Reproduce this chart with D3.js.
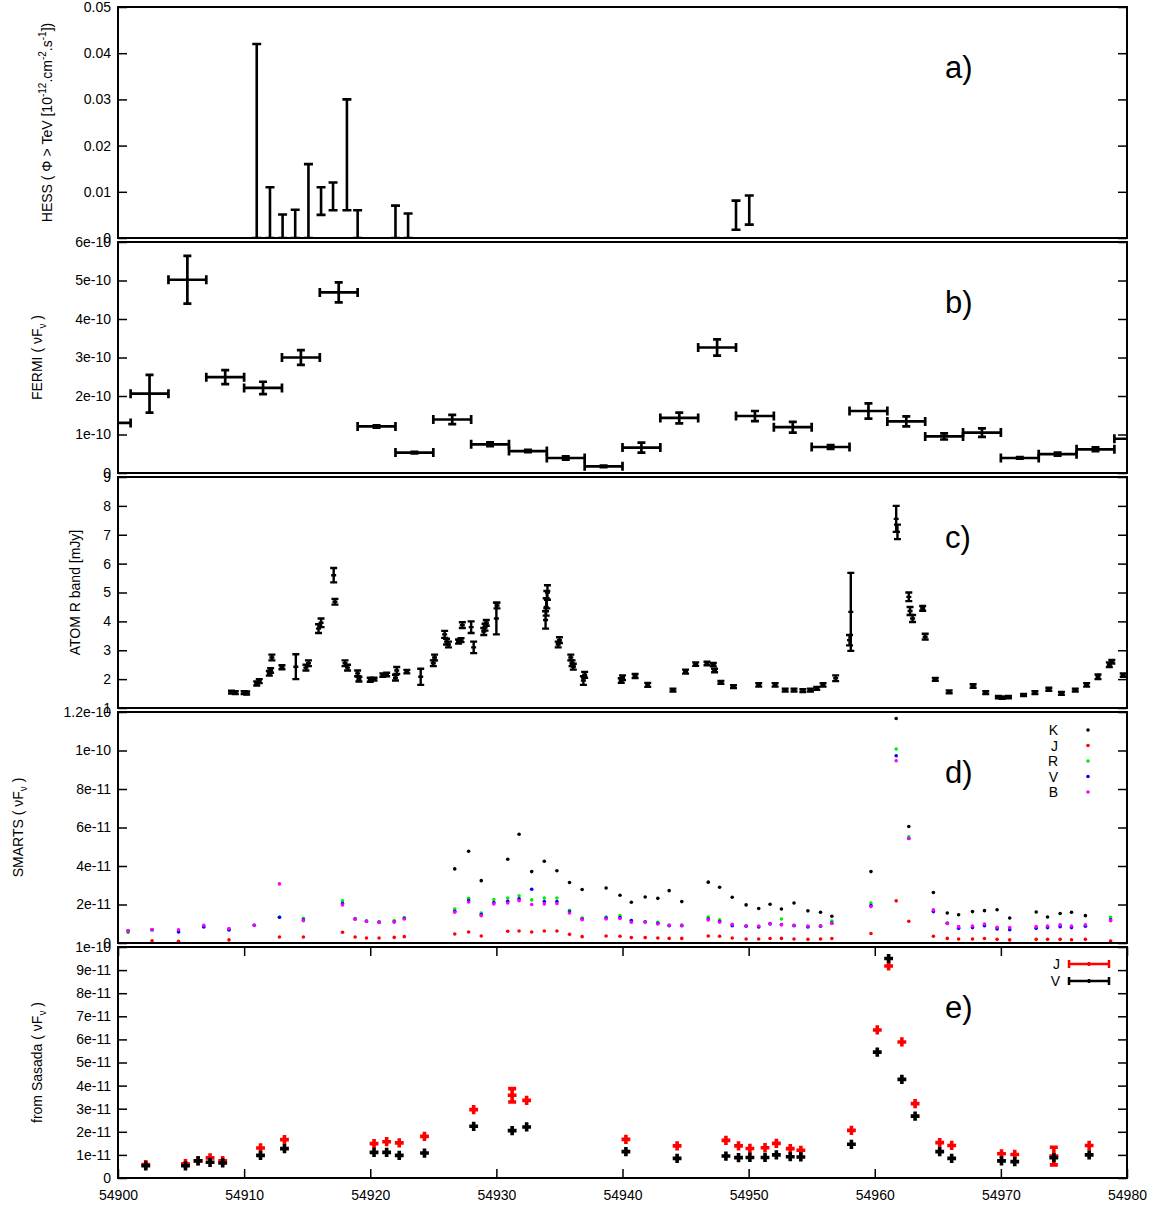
<!DOCTYPE html>
<html>
<head>
<meta charset="utf-8">
<title>Multi-wavelength light curves</title>
<style>
  body { margin: 0; background: #fff; }
  svg text { font-family: "Liberation Sans", Arial, sans-serif; }
</style>
</head>
<body>
<svg width="1170" height="1207"></svg>
<script src="https://d3js.org/d3.v7.min.js"></script>
<script>

// ---------- data (x = MJD) ----------

// HESS: [mjd, low, high]
var hess = [
  [54911.0, 0, 0.042], [54912.05, 0, 0.011], [54913.05, 0, 0.0051],
  [54914.05, 0, 0.0061], [54915.1, 0, 0.016], [54916.1, 0.005, 0.011],
  [54917.05, 0.006, 0.012], [54918.15, 0.006, 0.030], [54919.0, 0, 0.006],
  [54922.0, 0, 0.007], [54923.0, 0, 0.0053],
  [54949.0, 0.0018, 0.0081], [54950.05, 0.0029, 0.0092]
];
var hessTicks = [0, 0.01, 0.02, 0.03, 0.04, 0.05];

// FERMI: 3-day bins, [centre mjd, flux (1e-10), error (1e-10)]
var fermiHalfBin = 1.5;
var fermi = [
  [54899.5, 1.30, 0.03], [54902.5, 2.06, 0.49], [54905.5, 5.02, 0.62],
  [54908.5, 2.49, 0.18], [54911.5, 2.21, 0.16], [54914.5, 3.00, 0.19],
  [54917.5, 4.69, 0.26], [54920.5, 1.21, 0.03], [54923.5, 0.53, 0.02],
  [54926.5, 1.39, 0.12], [54929.5, 0.745, 0.05], [54932.5, 0.57, 0.03],
  [54935.5, 0.39, 0.04], [54938.5, 0.174, 0.02], [54941.5, 0.66, 0.13],
  [54944.5, 1.43, 0.14], [54947.5, 3.26, 0.21], [54950.5, 1.48, 0.13],
  [54953.5, 1.19, 0.14], [54956.5, 0.675, 0.05], [54959.5, 1.61, 0.2],
  [54962.5, 1.34, 0.13], [54965.5, 0.95, 0.08], [54968.5, 1.05, 0.11],
  [54971.5, 0.39, 0.02], [54974.5, 0.49, 0.04], [54977.5, 0.615, 0.05],
  [54980.5, 0.89, 0.05]
];
var fermiTicks = [0, 1, 2, 3, 4, 5, 6];

// ATOM R band: [mjd, mJy, error]
var atom = [
  [54909.0, 1.55, 0.05], [54909.3, 1.53, 0.05], [54910.0, 1.53, 0.05], [54910.2, 1.52, 0.05],
  [54911.0, 1.85, 0.07], [54911.2, 1.93, 0.07], [54912.0, 2.2, 0.08], [54912.1, 2.3, 0.08],
  [54912.2, 2.75, 0.1], [54913.0, 2.41, 0.07], [54914.1, 2.43, 0.43], [54914.9, 2.4, 0.1],
  [54915.1, 2.55, 0.1], [54915.9, 3.75, 0.15], [54916.1, 3.95, 0.15], [54917.1, 5.6, 0.25],
  [54917.2, 4.68, 0.1], [54918.0, 2.55, 0.1], [54918.2, 2.4, 0.1], [54919.0, 2.2, 0.1],
  [54919.1, 2.0, 0.08], [54920.0, 1.98, 0.07], [54920.3, 2.0, 0.05], [54921.0, 2.14, 0.06],
  [54921.3, 2.16, 0.06], [54922.0, 2.05, 0.1], [54922.1, 2.3, 0.12], [54922.9, 2.26, 0.06],
  [54924.0, 2.08, 0.28], [54925.0, 2.55, 0.1], [54925.1, 2.75, 0.1], [54925.9, 3.55, 0.12],
  [54926.05, 3.3, 0.1], [54926.2, 3.2, 0.1], [54927.0, 3.3, 0.07], [54927.2, 3.35, 0.07],
  [54927.3, 3.87, 0.1], [54928.0, 3.8, 0.2], [54928.2, 3.1, 0.2], [54929.0, 3.65, 0.12],
  [54929.1, 3.8, 0.12], [54929.2, 3.95, 0.1], [54930.0, 4.1, 0.55], [54930.05, 4.55, 0.1],
  [54933.9, 4.05, 0.3], [54933.95, 4.5, 0.3], [54934.0, 4.75, 0.3], [54934.05, 5.0, 0.25],
  [54934.9, 3.2, 0.1], [54935.0, 3.35, 0.1], [54935.9, 2.75, 0.1], [54936.0, 2.55, 0.1],
  [54936.1, 2.43, 0.1], [54936.9, 1.95, 0.15], [54937.0, 2.15, 0.1], [54939.9, 1.95, 0.08],
  [54940.0, 2.05, 0.08], [54941.0, 2.11, 0.07], [54942.0, 1.8, 0.07], [54944.0, 1.62, 0.05],
  [54945.0, 2.26, 0.07], [54945.8, 2.52, 0.06], [54946.7, 2.54, 0.06], [54947.2, 2.5, 0.06],
  [54947.3, 2.3, 0.06], [54947.8, 1.89, 0.05], [54948.8, 1.74, 0.05], [54950.8, 1.8, 0.06],
  [54952.1, 1.8, 0.06], [54952.9, 1.62, 0.05], [54953.6, 1.62, 0.05], [54954.3, 1.6, 0.05],
  [54954.9, 1.62, 0.05], [54955.4, 1.68, 0.05], [54955.9, 1.8, 0.06], [54956.9, 2.03, 0.1],
  [54958.0, 3.35, 0.18], [54958.1, 4.33, 1.35], [54961.7, 7.55, 0.45], [54961.8, 7.1, 0.25],
  [54962.7, 4.85, 0.15], [54962.8, 4.36, 0.14], [54963.0, 4.1, 0.12], [54963.8, 4.45, 0.08],
  [54964.0, 3.47, 0.1], [54964.8, 1.99, 0.05], [54965.9, 1.56, 0.05], [54967.8, 1.76, 0.06],
  [54968.8, 1.53, 0.05], [54969.8, 1.38, 0.04], [54970.1, 1.36, 0.04], [54970.6, 1.38, 0.04],
  [54971.8, 1.45, 0.04], [54972.7, 1.53, 0.05], [54973.8, 1.65, 0.05], [54974.8, 1.51, 0.05],
  [54975.9, 1.62, 0.05], [54976.8, 1.8, 0.06], [54977.7, 2.08, 0.08], [54978.6, 2.5, 0.08],
  [54978.8, 2.6, 0.06], [54979.7, 2.14, 0.06]
];
var atomTicks = [1, 2, 3, 4, 5, 6, 7, 8, 9];

// SMARTS (units of 1e-11), one value per night and band, null = no point
var smartsMJD = [54900.8, 54902.7, 54904.8, 54906.8, 54908.8, 54910.8, 54912.8, 54914.7,
  54917.8, 54918.8, 54919.7, 54920.7, 54921.9, 54922.7, 54926.7, 54927.8, 54928.8, 54929.8,
  54930.9, 54931.8, 54932.8, 54933.8, 54934.8, 54935.8, 54936.8, 54938.7, 54939.8, 54940.7,
  54941.8, 54942.8, 54943.7, 54944.7, 54946.8, 54947.7, 54948.7, 54949.8, 54950.8, 54951.7,
  54952.6, 54953.6, 54954.7, 54955.7, 54956.6, 54959.7, 54961.7, 54962.7, 54964.65, 54965.75,
  54966.65, 54967.75, 54968.7, 54969.7, 54970.7, 54972.8, 54973.7, 54974.7, 54975.6, 54976.7,
  54978.7];
var smartsK = [null, null, null, null, null, null, null, null,
  null, null, null, null, null, null, 3.85, 4.77, 3.24, null,
  4.35, 5.65, 3.71, 4.25, 3.75, 3.14, 2.78, 2.86, 2.48, 2.12,
  2.39, 2.32, 2.72, 2.15, 3.16, 2.90, 2.38, 1.98, 1.79, 2.01,
  1.77, 2.08, 1.67, 1.60, 1.39, 3.71, 11.66, 6.05, 2.62, 1.56,
  1.47, 1.63, 1.68, 1.73, 1.30, 1.61, 1.35, 1.53, 1.60, 1.42,
  null];
var smartsJ = [null, 0.12, 0.09, null, 0.16, null, 0.31, 0.31,
  0.56, 0.31, 0.26, 0.26, 0.29, 0.33, 0.47, 0.57, 0.36, null,
  0.61, 0.62, 0.57, 0.62, 0.62, 0.45, 0.33, 0.36, 0.35, 0.28,
  0.28, 0.26, 0.24, 0.24, 0.36, 0.35, 0.26, 0.21, 0.21, 0.23,
  0.24, 0.21, 0.19, 0.21, 0.23, 0.49, 2.19, 1.13, 0.35, 0.24,
  0.21, 0.21, 0.23, 0.19, 0.16, 0.19, 0.19, 0.19, 0.17, 0.19,
  0.10];
var smartsR = [0.55, 0.68, 0.60, 0.86, 0.70, 0.92, 1.34, 1.28,
  2.19, 1.27, 1.15, 1.11, 1.16, 1.32, 1.77, 2.32, 1.56, 2.26,
  2.34, 2.45, 2.24, 2.34, 2.34, 1.70, 1.30, 1.35, 1.42, 1.16,
  1.12, 1.08, 0.93, 0.93, 1.35, 1.20, 0.95, 0.90, 0.86, 1.02,
  1.25, 0.92, 0.86, 0.90, 1.14, 2.08, 10.08, 5.52, 1.68, 1.04,
  0.80, 0.84, 0.95, 0.78, 0.74, 0.80, 0.84, 0.90, 0.84, 0.92,
  1.34];
var smartsV = [0.63, 0.69, 0.57, 0.83, 0.68, 0.92, 1.34, 1.20,
  2.05, 1.25, 1.13, 1.08, 1.10, 1.27, 1.65, 2.20, 1.48, 2.10,
  2.17, 2.29, 2.79, 2.15, 2.15, 1.62, 1.25, 1.30, 1.32, 1.16,
  1.09, 1.02, 0.90, 0.90, 1.25, 1.12, 0.90, 0.87, 0.83, 0.99,
  0.96, 0.90, 0.83, 0.87, 1.04, 1.95, 9.73, 5.43, 1.63, 1.02,
  0.76, 0.80, 0.90, 0.73, 0.69, 0.76, 0.80, 0.85, 0.80, 0.87,
  1.20];
var smartsB = [0.64, 0.70, 0.69, 0.92, 0.75, 0.92, 3.07, 1.16,
  1.98, 1.24, 1.12, 1.07, 1.09, 1.25, 1.60, 2.13, 1.42, 2.03,
  2.08, 2.20, 2.00, 2.03, 2.05, 1.56, 1.21, 1.25, 1.27, 1.08,
  1.09, 0.99, 0.92, 0.92, 1.20, 1.08, 0.97, 0.88, 0.88, 1.00,
  0.94, 0.92, 0.88, 0.90, 1.01, 1.89, 9.47, 5.43, 1.72, 1.01,
  0.85, 0.88, 0.99, 0.82, 0.80, 0.85, 0.88, 0.94, 0.88, 0.95,
  1.16];
var smartsBands = ["K", "J", "R", "V", "B"];
var smartsColors = ["#000000", "#ff0000", "#00ee00", "#0000ff", "#ff00ff"];
var smartsTicks = [0, 2, 4, 6, 8, 10, 12];

// Sasada J and V (units of 1e-11)
var sasadaMJD = [54902.2, 54905.35, 54906.35, 54907.3, 54908.3, 54911.3, 54913.2, 54920.3,
  54921.3, 54922.3, 54924.3, 54928.2, 54931.25, 54932.4, 54940.27, 54944.33, 54948.2,
  54949.2, 54950.1, 54951.3, 54952.2, 54953.3, 54954.14, 54958.15, 54960.2, 54961.1,
  54962.15, 54963.2, 54965.15, 54966.1, 54970.05, 54971.1, 54974.2, 54977.0];
var sasadaJ = [0.58, 0.62, 0.75, 0.87, 0.75, 1.30, 1.66, 1.49,
  1.57, 1.52, 1.80, 2.96, 3.58, 3.36, 1.67, 1.39, 1.63,
  1.39, 1.28, 1.31, 1.50, 1.27, 1.20, 2.06, 6.41, 9.18,
  5.89, 3.22, 1.53, 1.41, 1.05, 1.02, 0.95, 1.41];
var sasadaJerr = [0.2, 0.2, 0.2, 0.2, 0.2, 0.2, 0.2, 0.2,
  0.2, 0.2, 0.2, 0.2, 0.29, 0.2, 0.2, 0.2, 0.2,
  0.2, 0.2, 0.2, 0.2, 0.2, 0.2, 0.2, 0.2, 0.2,
  0.2, 0.2, 0.2, 0.2, 0.2, 0.2, 0.38, 0.2];
var sasadaV = [0.53, 0.53, 0.74, 0.68, 0.65, 0.98, 1.27, 1.11,
  1.11, 0.98, 1.08, 2.24, 2.05, 2.21, 1.14, 0.85, 0.95,
  0.88, 0.89, 0.89, 1.00, 0.92, 0.91, 1.46, 5.45, 9.50,
  4.27, 2.68, 1.14, 0.85, 0.74, 0.71, 0.88, 1.00];
var sasadaVerr = [0.2, 0.2, 0.2, 0.2, 0.2, 0.2, 0.2, 0.2,
  0.2, 0.2, 0.2, 0.2, 0.2, 0.2, 0.2, 0.2, 0.2,
  0.2, 0.2, 0.2, 0.2, 0.2, 0.2, 0.2, 0.2, 0.2,
  0.2, 0.2, 0.2, 0.2, 0.2, 0.2, 0.2, 0.2];
var sasadaXerr = 0.35;
var sasadaTicks = [0, 1, 2, 3, 4, 5, 6, 7, 8, 9, 10];

var xTicks = [54900, 54910, 54920, 54930, 54940, 54950, 54960, 54970, 54980];

// ---------- layout ----------

var svg = d3.select("svg"),
    plotLeft = 118,
    plotRight = 1127,
    panelH = 231,
    panelStep = 235,
    font = "Liberation Sans, Arial, sans-serif";

var x = d3.scaleLinear()
    .domain([54900, 54980])
    .range([plotLeft, plotRight]);

var defs = svg.append("defs");

function sci(scale) {
  return function(d) { return d === 0 ? "0" : d3.format("~e")(d * scale); };
}

function styleAxis(sel) {
  sel.attr("font-size", 14).attr("font-family", font);
  sel.select(".domain").remove();
  sel.selectAll("line").attr("stroke-width", 1.5);
  sel.selectAll("text").attr("fill", "#000");
}

function makePanel(i, domain, ticks, fmt, letter) {
  var top = 7 + i * panelStep,
      bottom = top + panelH;
  var y = d3.scaleLinear().domain(domain).range([bottom, top]);
  var g = svg.append("g");

  defs.append("clipPath")
      .attr("id", "clip" + i)
    .append("rect")
      .attr("x", plotLeft)
      .attr("y", top)
      .attr("width", plotRight - plotLeft)
      .attr("height", panelH);

  g.append("g")
      .attr("transform", "translate(" + plotLeft + ",0)")
      .call(d3.axisLeft(y).tickValues(ticks).tickSize(-9).tickPadding(7).tickFormat(fmt))
      .call(styleAxis);

  g.append("g")
      .attr("transform", "translate(" + plotRight + ",0)")
      .call(d3.axisRight(y).tickValues(ticks).tickSize(-9).tickFormat(""))
      .call(styleAxis);

  g.append("text")
      .attr("x", 945)
      .attr("y", top + 71)
      .attr("font-size", 31)
      .attr("fill", "#000")
      .text(letter);

  var marks = g.append("g").attr("clip-path", "url(#clip" + i + ")");

  g.append("rect")
      .attr("x", plotLeft)
      .attr("y", top)
      .attr("width", plotRight - plotLeft)
      .attr("height", panelH)
      .attr("fill", "none")
      .attr("stroke", "#000")
      .attr("stroke-width", 2);

  return {g: g, y: y, marks: marks, top: top, bottom: bottom};
}

// vertical bar with caps
function vPath(px, y0, y1, cap) {
  return "M" + (px - cap) + "," + y0 + "H" + (px + cap) +
         "M" + px + "," + y0 + "V" + y1 +
         "M" + (px - cap) + "," + y1 + "H" + (px + cap);
}
// horizontal bar with caps
function hPath(x0, x1, py, cap) {
  return "M" + x0 + "," + (py - cap) + "V" + (py + cap) +
         "M" + x0 + "," + py + "H" + x1 +
         "M" + x1 + "," + (py - cap) + "V" + (py + cap);
}

function yLabel(px, py, parts) {
  var t = svg.append("text")
      .attr("transform", "translate(" + px + "," + py + ") rotate(-90)")
      .attr("text-anchor", "middle")
      .attr("font-size", 14)
      .attr("fill", "#000");
  parts.forEach(function(p) {
    var s = t.append("tspan").text(p[0]);
    if (p[1]) s.attr("dy", p[1]);
    if (p[2]) s.attr("font-size", p[2]);
  });
}

// ---------- a) HESS ----------
var pa = makePanel(0, [0, 0.05], hessTicks,
    function(d) { return d === 0 ? "0" : d3.format(".2f")(d); }, "a)");

pa.marks.selectAll("path")
  .data(hess)
  .enter().append("path")
    .attr("d", function(d) { return vPath(x(d[0]), pa.y(d[1]), pa.y(d[2]), 4.5); })
    .attr("fill", "none")
    .attr("stroke", "#000")
    .attr("stroke-width", 2.6);

yLabel(52, pa.top + panelH / 2, [
  ["HESS ( \u03a6 > TeV [10"], ["-12", -6, 10], [".cm", 6], ["-2", -6, 10],
  [".s", 6], ["-1", -6, 10], ["])", 6]
]);

// ---------- b) FERMI ----------
var pb = makePanel(1, [0, 6], fermiTicks, sci(1e-10), "b)");

pb.marks.selectAll("path.h")
  .data(fermi)
  .enter().append("path")
    .attr("class", "h")
    .attr("d", function(d) {
      return hPath(x(d[0] - fermiHalfBin), x(d[0] + fermiHalfBin), pb.y(d[1]), 4.5);
    })
    .attr("fill", "none")
    .attr("stroke", "#000")
    .attr("stroke-width", 2.7);

pb.marks.selectAll("path.v")
  .data(fermi)
  .enter().append("path")
    .attr("class", "v")
    .attr("d", function(d) { return vPath(x(d[0]), pb.y(d[1] - d[2]), pb.y(d[1] + d[2]), 4); })
    .attr("fill", "none")
    .attr("stroke", "#000")
    .attr("stroke-width", 2.7);

yLabel(42, pb.top + panelH / 2, [
  ["FERMI ( \u03bdF"], ["\u03bd", 4, 10], [" )", -4]
]);

// ---------- c) ATOM ----------
var pc = makePanel(2, [1, 9], atomTicks, function(d) { return d; }, "c)");

pc.marks.selectAll("path")
  .data(atom)
  .enter().append("path")
    .attr("d", function(d) {
      var px = x(d[0]), py = pc.y(d[1]);
      return vPath(px, pc.y(d[1] - d[2]), pc.y(d[1] + d[2]), 3.5) +
             "M" + (px - 2.5) + "," + py + "H" + (px + 2.5);
    })
    .attr("fill", "none")
    .attr("stroke", "#000")
    .attr("stroke-width", 2.4);

yLabel(80, pc.top + panelH / 2, [["ATOM R band [mJy]"]]);

// ---------- d) SMARTS ----------
var pd = makePanel(3, [0, 12], smartsTicks, sci(1e-11), "d)");

var smartsSeries = [smartsK, smartsJ, smartsR, smartsV, smartsB];
smartsSeries.forEach(function(vals, k) {
  var pts = smartsMJD.map(function(m, j) { return [m, vals[j]]; })
      .filter(function(p) { return p[1] != null; });
  pd.marks.append("g").selectAll("circle")
    .data(pts)
    .enter().append("circle")
      .attr("cx", function(d) { return x(d[0]); })
      .attr("cy", function(d) { return pd.y(d[1]); })
      .attr("r", 1.8)
      .attr("fill", smartsColors[k]);
});

var legD = pd.g.append("g");
smartsBands.forEach(function(b, k) {
  var ly = pd.top + 18 + k * 15.5;
  legD.append("text")
      .attr("x", 1058)
      .attr("y", ly + 5)
      .attr("text-anchor", "end")
      .attr("font-size", 14)
      .attr("fill", "#000")
      .text(b);
  legD.append("circle")
      .attr("cx", 1088)
      .attr("cy", ly)
      .attr("r", 1.8)
      .attr("fill", smartsColors[k]);
});

yLabel(23, pd.top + panelH / 2, [
  ["SMARTS ( \u03bdF"], ["\u03bd", 4, 10], [" )", -4]
]);

// ---------- e) Sasada ----------
var pe = makePanel(4, [0, 10], sasadaTicks, sci(1e-11), "e)");

pe.g.append("g")
    .attr("transform", "translate(0," + pe.bottom + ")")
    .call(d3.axisBottom(x).tickValues(xTicks).tickSize(-9).tickPadding(12).tickFormat(d3.format("d")))
    .call(styleAxis);

pe.g.append("g")
    .attr("transform", "translate(0," + pe.top + ")")
    .call(d3.axisTop(x).tickValues(xTicks).tickSize(-9).tickFormat(""))
    .call(styleAxis);

var sasadaSeries = [
  {vals: sasadaJ, errs: sasadaJerr, color: "#ff0000", name: "J"},
  {vals: sasadaV, errs: sasadaVerr, color: "#000000", name: "V"}
];

sasadaSeries.forEach(function(s) {
  var pts = sasadaMJD.map(function(m, j) { return [m, s.vals[j], s.errs[j]]; });
  pe.marks.append("g").selectAll("path")
    .data(pts)
    .enter().append("path")
      .attr("d", function(d) {
        var px = x(d[0]), py = pe.y(d[1]);
        var p = "M" + x(d[0] - sasadaXerr) + "," + py + "H" + x(d[0] + sasadaXerr) +
                "M" + px + "," + pe.y(d[1] - d[2]) + "V" + pe.y(d[1] + d[2]);
        if (d[2] > 0.25) p += vPath(px, pe.y(d[1] - d[2]), pe.y(d[1] + d[2]), 4);
        return p;
      })
      .attr("fill", "none")
      .attr("stroke", s.color)
      .attr("stroke-width", 3.6);
});

sasadaSeries.forEach(function(s, k) {
  var ly = pe.top + 17 + k * 17;
  pe.g.append("text")
      .attr("x", 1060)
      .attr("y", ly + 5)
      .attr("text-anchor", "end")
      .attr("font-size", 14)
      .attr("fill", "#000")
      .text(s.name);
  pe.g.append("path")
      .attr("d", hPath(1069, 1109, ly, 4) + "M1089," + (ly - 2) + "V" + (ly + 2))
      .attr("fill", "none")
      .attr("stroke", s.color)
      .attr("stroke-width", 2.5);
});

yLabel(42, pe.top + panelH / 2, [
  ["from Sasada ( \u03bdF"], ["\u03bd", 4, 10], [" )", -4]
]);

</script>
</body>
</html>
